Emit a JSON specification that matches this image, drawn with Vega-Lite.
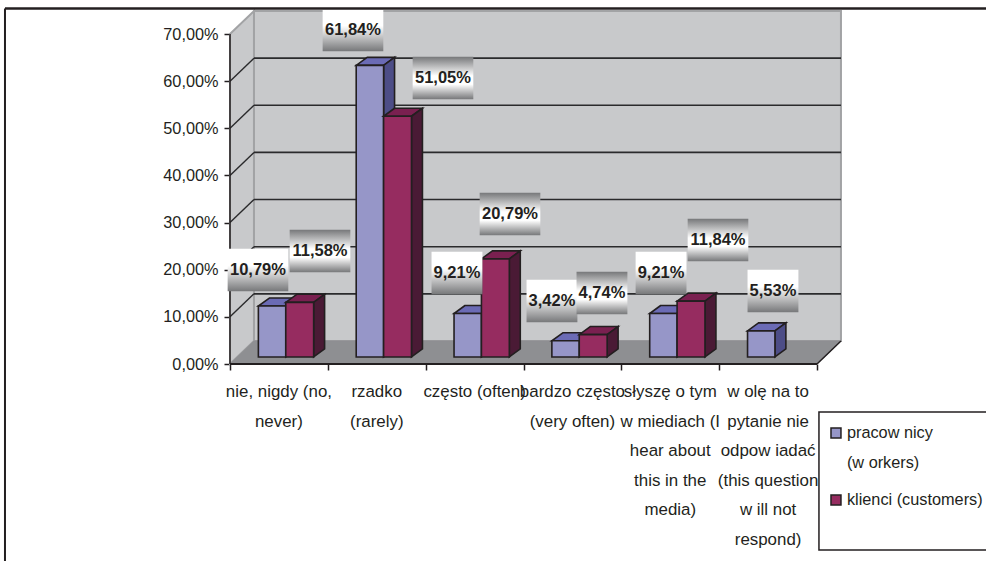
{
  "$schema": "https://vega.github.io/schema/vega-lite/v6.json",
  "width": 587,
  "height": 330,
  "padding": {"left": 230, "top": 34, "right": 169, "bottom": 197},
  "autosize": {"type": "none"},
  "background": "white",
  "config": {
    "view": {"stroke": null},
    "text": {"font": "Liberation Sans", "fontSize": 16.3, "color": "#231f20"}
  },
  "datasets": {
    "jeden": [{}],
    "krawedz": [{"t": 0}, {"t": 1}],
    "siatka": [{"v": 10}, {"v": 20}, {"v": 30}, {"v": 40}, {"v": 50}, {"v": 60}],
    "kategorie": [
      {"n": 0, "opis": "nie, nigdy (no,\nnever)"},
      {"n": 1, "opis": "rzadko\n(rarely)"},
      {"n": 2, "opis": "często (often)"},
      {"n": 3, "opis": "bardzo często\n(very often)"},
      {"n": 4, "opis": "słyszę o tym\nw  miediach (I\nhear about\nthis in the\nmedia)"},
      {"n": 5, "opis": "w olę na to\npytanie nie\nodpow iadać\n(this question\nw ill not\nrespond)"}
    ],
    "slupki": [
      {"n": 0, "seria": "pracownicy", "wartosc": 10.79, "etykietaKat": 0.286, "etykietaPct": 19.94},
      {"n": 0, "seria": "klienci", "wartosc": 11.58, "etykietaKat": 0.92, "etykietaPct": 23.97},
      {"n": 1, "seria": "pracownicy", "wartosc": 61.84, "etykietaKat": 1.257, "etykietaPct": 70.85},
      {"n": 1, "seria": "klienci", "wartosc": 51.05, "etykietaKat": 2.177, "etykietaPct": 60.67},
      {"n": 2, "seria": "pracownicy", "wartosc": 9.21, "etykietaKat": 2.32, "etykietaPct": 19.3},
      {"n": 2, "seria": "klienci", "wartosc": 20.79, "etykietaKat": 2.862, "etykietaPct": 31.82},
      {"n": 3, "seria": "pracownicy", "wartosc": 3.42, "etykietaKat": 3.291, "etykietaPct": 13.36},
      {"n": 3, "seria": "klienci", "wartosc": 4.74, "etykietaKat": 3.802, "etykietaPct": 15.06},
      {"n": 4, "seria": "pracownicy", "wartosc": 9.21, "etykietaKat": 4.406, "etykietaPct": 19.3},
      {"n": 4, "seria": "klienci", "wartosc": 11.84, "etykietaKat": 4.988, "etykietaPct": 26.3},
      {"n": 5, "seria": "pracownicy", "wartosc": 5.53, "etykietaKat": 5.55, "etykietaPct": 15.49}
    ]
  },
  "layer": [
    {
      "data": {"name": "jeden"},
      "mark": {"type": "rect", "fill": "#c8c9cb", "stroke": "#a2a3a5", "strokeWidth": 2},
      "encoding": {
        "x": {
          "datum": 0.245, "type": "quantitative",
          "scale": {"domain": [0, 6], "nice": false, "zero": false},
          "axis": {"values": [0, 1, 2, 3, 4, 5, 6], "labels": false, "title": null, "grid": false, "domain": false, "tickSize": 6, "tickWidth": 1.5, "tickColor": "#231f20"}
        },
        "x2": {"datum": 6.245},
        "y": {
          "datum": 4.88, "type": "quantitative",
          "scale": {"domain": [0, 70], "nice": false, "zero": false},
          "axis": {
            "values": [0, 10, 20, 30, 40, 50, 60, 70], "title": null, "grid": false, "domain": false,
            "tickSize": 6, "tickWidth": 1.5, "tickColor": "#231f20", "labelPadding": 6,
            "labelFont": "Liberation Sans", "labelFontSize": 16.3, "labelColor": "#231f20",
            "labelExpr": "replace(format(datum.value,'.2f'),'.',',')+'%'"
          }
        },
        "y2": {"datum": 74.88}
      }
    },
    {
      "data": {"name": "krawedz"},
      "transform": [
        {"calculate": "datum.t*0.245", "as": "xs"},
        {"calculate": "datum.t*4.88", "as": "yd"},
        {"calculate": "70+datum.t*4.88", "as": "yg"},
        {"calculate": "6+datum.t*0.245", "as": "xp"}
      ],
      "layer": [
        {
          "mark": {"type": "area", "fill": "#c8c9cb", "stroke": "#a2a3a5", "strokeWidth": 2},
          "encoding": {
            "x": {"field": "xs", "type": "quantitative"},
            "y": {"field": "yd", "type": "quantitative"},
            "y2": {"field": "yg"}
          }
        },
        {
          "mark": {"type": "area", "orient": "horizontal", "fill": "#8e8f92", "stroke": "#8e8f92", "strokeWidth": 1},
          "encoding": {
            "y": {"field": "yd", "type": "quantitative"},
            "x": {"field": "xs", "type": "quantitative"},
            "x2": {"field": "xp"}
          }
        }
      ]
    },
    {
      "data": {"name": "siatka"},
      "transform": [{"calculate": "datum.v+4.88", "as": "vt"}],
      "layer": [
        {
          "mark": {"type": "rule", "color": "#2a2a2c", "strokeWidth": 1.6},
          "encoding": {
            "x": {"datum": 0.245, "type": "quantitative"},
            "x2": {"datum": 6.245},
            "y": {"field": "vt", "type": "quantitative"}
          }
        },
        {
          "mark": {"type": "rule", "color": "#2a2a2c", "strokeWidth": 1.4},
          "encoding": {
            "x": {"datum": 0, "type": "quantitative"},
            "x2": {"datum": 0.245},
            "y": {"field": "v", "type": "quantitative"},
            "y2": {"field": "vt"}
          }
        }
      ]
    },
    {
      "data": {"name": "jeden"},
      "layer": [
        {
          "mark": {"type": "rule", "color": "#231f20", "strokeWidth": 1.5},
          "encoding": {
            "x": {"datum": 6, "type": "quantitative"},
            "x2": {"datum": 6.245},
            "y": {"datum": 0, "type": "quantitative"},
            "y2": {"datum": 4.88}
          }
        },
        {
          "mark": {"type": "rule", "color": "#231f20", "strokeWidth": 1.5},
          "encoding": {
            "x": {"datum": 0, "type": "quantitative"},
            "y": {"datum": 0, "type": "quantitative"},
            "y2": {"datum": 70}
          }
        },
        {
          "mark": {"type": "rule", "color": "#231f20", "strokeWidth": 1.8},
          "encoding": {
            "x": {"datum": 0, "type": "quantitative"},
            "x2": {"datum": 6},
            "y": {"datum": 0, "type": "quantitative"}
          }
        }
      ]
    },
    {
      "data": {"name": "slupki"},
      "transform": [
        {"calculate": "datum.n+(datum.seria=='pracownicy'?0.29:0.57)", "as": "lewy"},
        {"calculate": "datum.lewy+(datum.seria=='pracownicy'?0.28:0.285)", "as": "prawy"},
        {"calculate": "datum.wartosc+1.5", "as": "gora"},
        {"calculate": "[0,1]", "as": "t"},
        {"flatten": ["t"]},
        {"calculate": "datum.prawy+datum.t*0.112", "as": "bokX"},
        {"calculate": "1.5+datum.t*1.7", "as": "bokDol"},
        {"calculate": "datum.gora+datum.t*1.7", "as": "bokGora"},
        {"calculate": "datum.lewy+datum.t*0.112", "as": "wierzchL"}
      ],
      "layer": [
        {
          "transform": [{"filter": "datum.seria=='pracownicy'"}],
          "mark": {"type": "area", "orient": "horizontal", "fill": "#6b6bb5", "stroke": "#231f20", "strokeWidth": 1.6},
          "encoding": {
            "detail": {"field": "n"},
            "y": {"field": "bokGora", "type": "quantitative"},
            "x": {"field": "wierzchL", "type": "quantitative"},
            "x2": {"field": "bokX"}
          }
        },
        {
          "transform": [{"filter": "datum.seria=='pracownicy'"}],
          "mark": {"type": "area", "fill": "#4d4d87", "stroke": "#231f20", "strokeWidth": 1.6},
          "encoding": {
            "detail": {"field": "n"},
            "x": {"field": "bokX", "type": "quantitative"},
            "y": {"field": "bokDol", "type": "quantitative"},
            "y2": {"field": "bokGora"}
          }
        },
        {
          "transform": [{"filter": "datum.seria=='pracownicy' && datum.t==0"}],
          "mark": {"type": "rect", "fill": "#9696c8", "stroke": "#231f20", "strokeWidth": 1.6},
          "encoding": {
            "x": {"field": "lewy", "type": "quantitative"},
            "x2": {"field": "prawy"},
            "y": {"field": "bokDol", "type": "quantitative"},
            "y2": {"field": "gora"}
          }
        },
        {
          "transform": [{"filter": "datum.seria=='klienci'"}],
          "mark": {"type": "area", "orient": "horizontal", "fill": "#7a2050", "stroke": "#231f20", "strokeWidth": 1.6},
          "encoding": {
            "detail": {"field": "n"},
            "y": {"field": "bokGora", "type": "quantitative"},
            "x": {"field": "wierzchL", "type": "quantitative"},
            "x2": {"field": "bokX"}
          }
        },
        {
          "transform": [{"filter": "datum.seria=='klienci'"}],
          "mark": {"type": "area", "fill": "#4a1a35", "stroke": "#231f20", "strokeWidth": 1.6},
          "encoding": {
            "detail": {"field": "n"},
            "x": {"field": "bokX", "type": "quantitative"},
            "y": {"field": "bokDol", "type": "quantitative"},
            "y2": {"field": "bokGora"}
          }
        },
        {
          "transform": [{"filter": "datum.seria=='klienci' && datum.t==0"}],
          "mark": {"type": "rect", "fill": "#962c60", "stroke": "#231f20", "strokeWidth": 1.6},
          "encoding": {
            "x": {"field": "lewy", "type": "quantitative"},
            "x2": {"field": "prawy"},
            "y": {"field": "bokDol", "type": "quantitative"},
            "y2": {"field": "gora"}
          }
        }
      ]
    },
    {
      "data": {"name": "slupki"},
      "transform": [
        {"calculate": "replace(format(datum.wartosc,'.2f'),'.',',')+'%'", "as": "tekst"},
        {"calculate": "datum.wartosc>=10?0.31:0.26", "as": "pol"},
        {"calculate": "datum.etykietaKat-datum.pol", "as": "x1"},
        {"calculate": "datum.etykietaKat+datum.pol", "as": "x2"},
        {"calculate": "datum.etykietaPct-4.5", "as": "y1"},
        {"calculate": "datum.etykietaPct+4.5", "as": "y2"}
      ],
      "layer": [
        {
          "transform": [{"filter": "datum.seria=='pracownicy'"}],
          "mark": {
            "type": "rect",
            "fill": {"gradient": "linear", "x1": 0, "y1": 0, "x2": 0, "y2": 1, "stops": [
              {"offset": 0, "color": "#ffffff"},
              {"offset": 0.4, "color": "#ffffff"},
              {"offset": 1, "color": "#77787a"}
            ]}
          },
          "encoding": {
            "x": {"field": "x1", "type": "quantitative"},
            "x2": {"field": "x2"},
            "y": {"field": "y1", "type": "quantitative"},
            "y2": {"field": "y2"}
          }
        },
        {
          "transform": [{"filter": "datum.seria=='klienci'"}],
          "mark": {
            "type": "rect",
            "fill": {"gradient": "linear", "x1": 0, "y1": 0, "x2": 0, "y2": 1, "stops": [
              {"offset": 0, "color": "#77787a"},
              {"offset": 0.45, "color": "#ffffff"},
              {"offset": 0.65, "color": "#ffffff"},
              {"offset": 1, "color": "#77787a"}
            ]}
          },
          "encoding": {
            "x": {"field": "x1", "type": "quantitative"},
            "x2": {"field": "x2"},
            "y": {"field": "y1", "type": "quantitative"},
            "y2": {"field": "y2"}
          }
        },
        {
          "mark": {"type": "text", "fontWeight": "bold", "fontSize": 16.5, "baseline": "middle", "align": "center"},
          "encoding": {
            "x": {"field": "etykietaKat", "type": "quantitative"},
            "y": {"field": "etykietaPct", "type": "quantitative"},
            "text": {"field": "tekst"}
          }
        }
      ]
    },
    {
      "data": {"name": "kategorie"},
      "transform": [{"calculate": "datum.n+0.5", "as": "srodek"}],
      "mark": {"type": "text", "fontSize": 16.9, "lineBreak": "\n", "lineHeight": 29.5, "baseline": "top", "align": "center"},
      "encoding": {
        "x": {"field": "srodek", "type": "quantitative"},
        "y": {"datum": -4.3, "type": "quantitative"},
        "text": {"field": "opis"}
      }
    },
    {
      "data": {"name": "jeden"},
      "layer": [
        {
          "mark": {"type": "rect", "fill": "white", "stroke": "#231f20", "strokeWidth": 1.5},
          "encoding": {
            "x": {"datum": 6.02, "type": "quantitative"},
            "x2": {"datum": 7.9},
            "y": {"datum": -10.18, "type": "quantitative"},
            "y2": {"datum": -39.46}
          }
        },
        {
          "mark": {"type": "rect", "fill": "#9696c8", "stroke": "#231f20", "strokeWidth": 1.5},
          "encoding": {
            "x": {"datum": 6.143, "type": "quantitative"},
            "x2": {"datum": 6.245},
            "y": {"datum": -13.58, "type": "quantitative"},
            "y2": {"datum": -15.7}
          }
        },
        {
          "mark": {"type": "rect", "fill": "#962c60", "stroke": "#231f20", "strokeWidth": 1.5},
          "encoding": {
            "x": {"datum": 6.143, "type": "quantitative"},
            "x2": {"datum": 6.245},
            "y": {"datum": -27.8, "type": "quantitative"},
            "y2": {"datum": -29.9}
          }
        },
        {
          "mark": {"type": "text", "align": "left", "baseline": "middle", "lineHeight": 30, "text": ["pracow nicy", "(w orkers)"]},
          "encoding": {
            "x": {"datum": 6.306, "type": "quantitative"},
            "y": {"datum": -14.64, "type": "quantitative"}
          }
        },
        {
          "mark": {"type": "text", "align": "left", "baseline": "middle", "text": "klienci (customers)"},
          "encoding": {
            "x": {"datum": 6.306, "type": "quantitative"},
            "y": {"datum": -28.85, "type": "quantitative"}
          }
        },
        {
          "mark": {"type": "rule", "color": "#231f20", "strokeWidth": 2.4},
          "encoding": {
            "x": {"datum": -2.3, "type": "quantitative"},
            "x2": {"datum": 7.75},
            "y": {"datum": 75.4, "type": "quantitative"}
          }
        },
        {
          "mark": {"type": "rule", "color": "#231f20", "strokeWidth": 2},
          "encoding": {
            "x": {"datum": -2.3, "type": "quantitative"},
            "y": {"datum": 75.4, "type": "quantitative"},
            "y2": {"datum": -41.8}
          }
        }
      ]
    }
  ]
}
